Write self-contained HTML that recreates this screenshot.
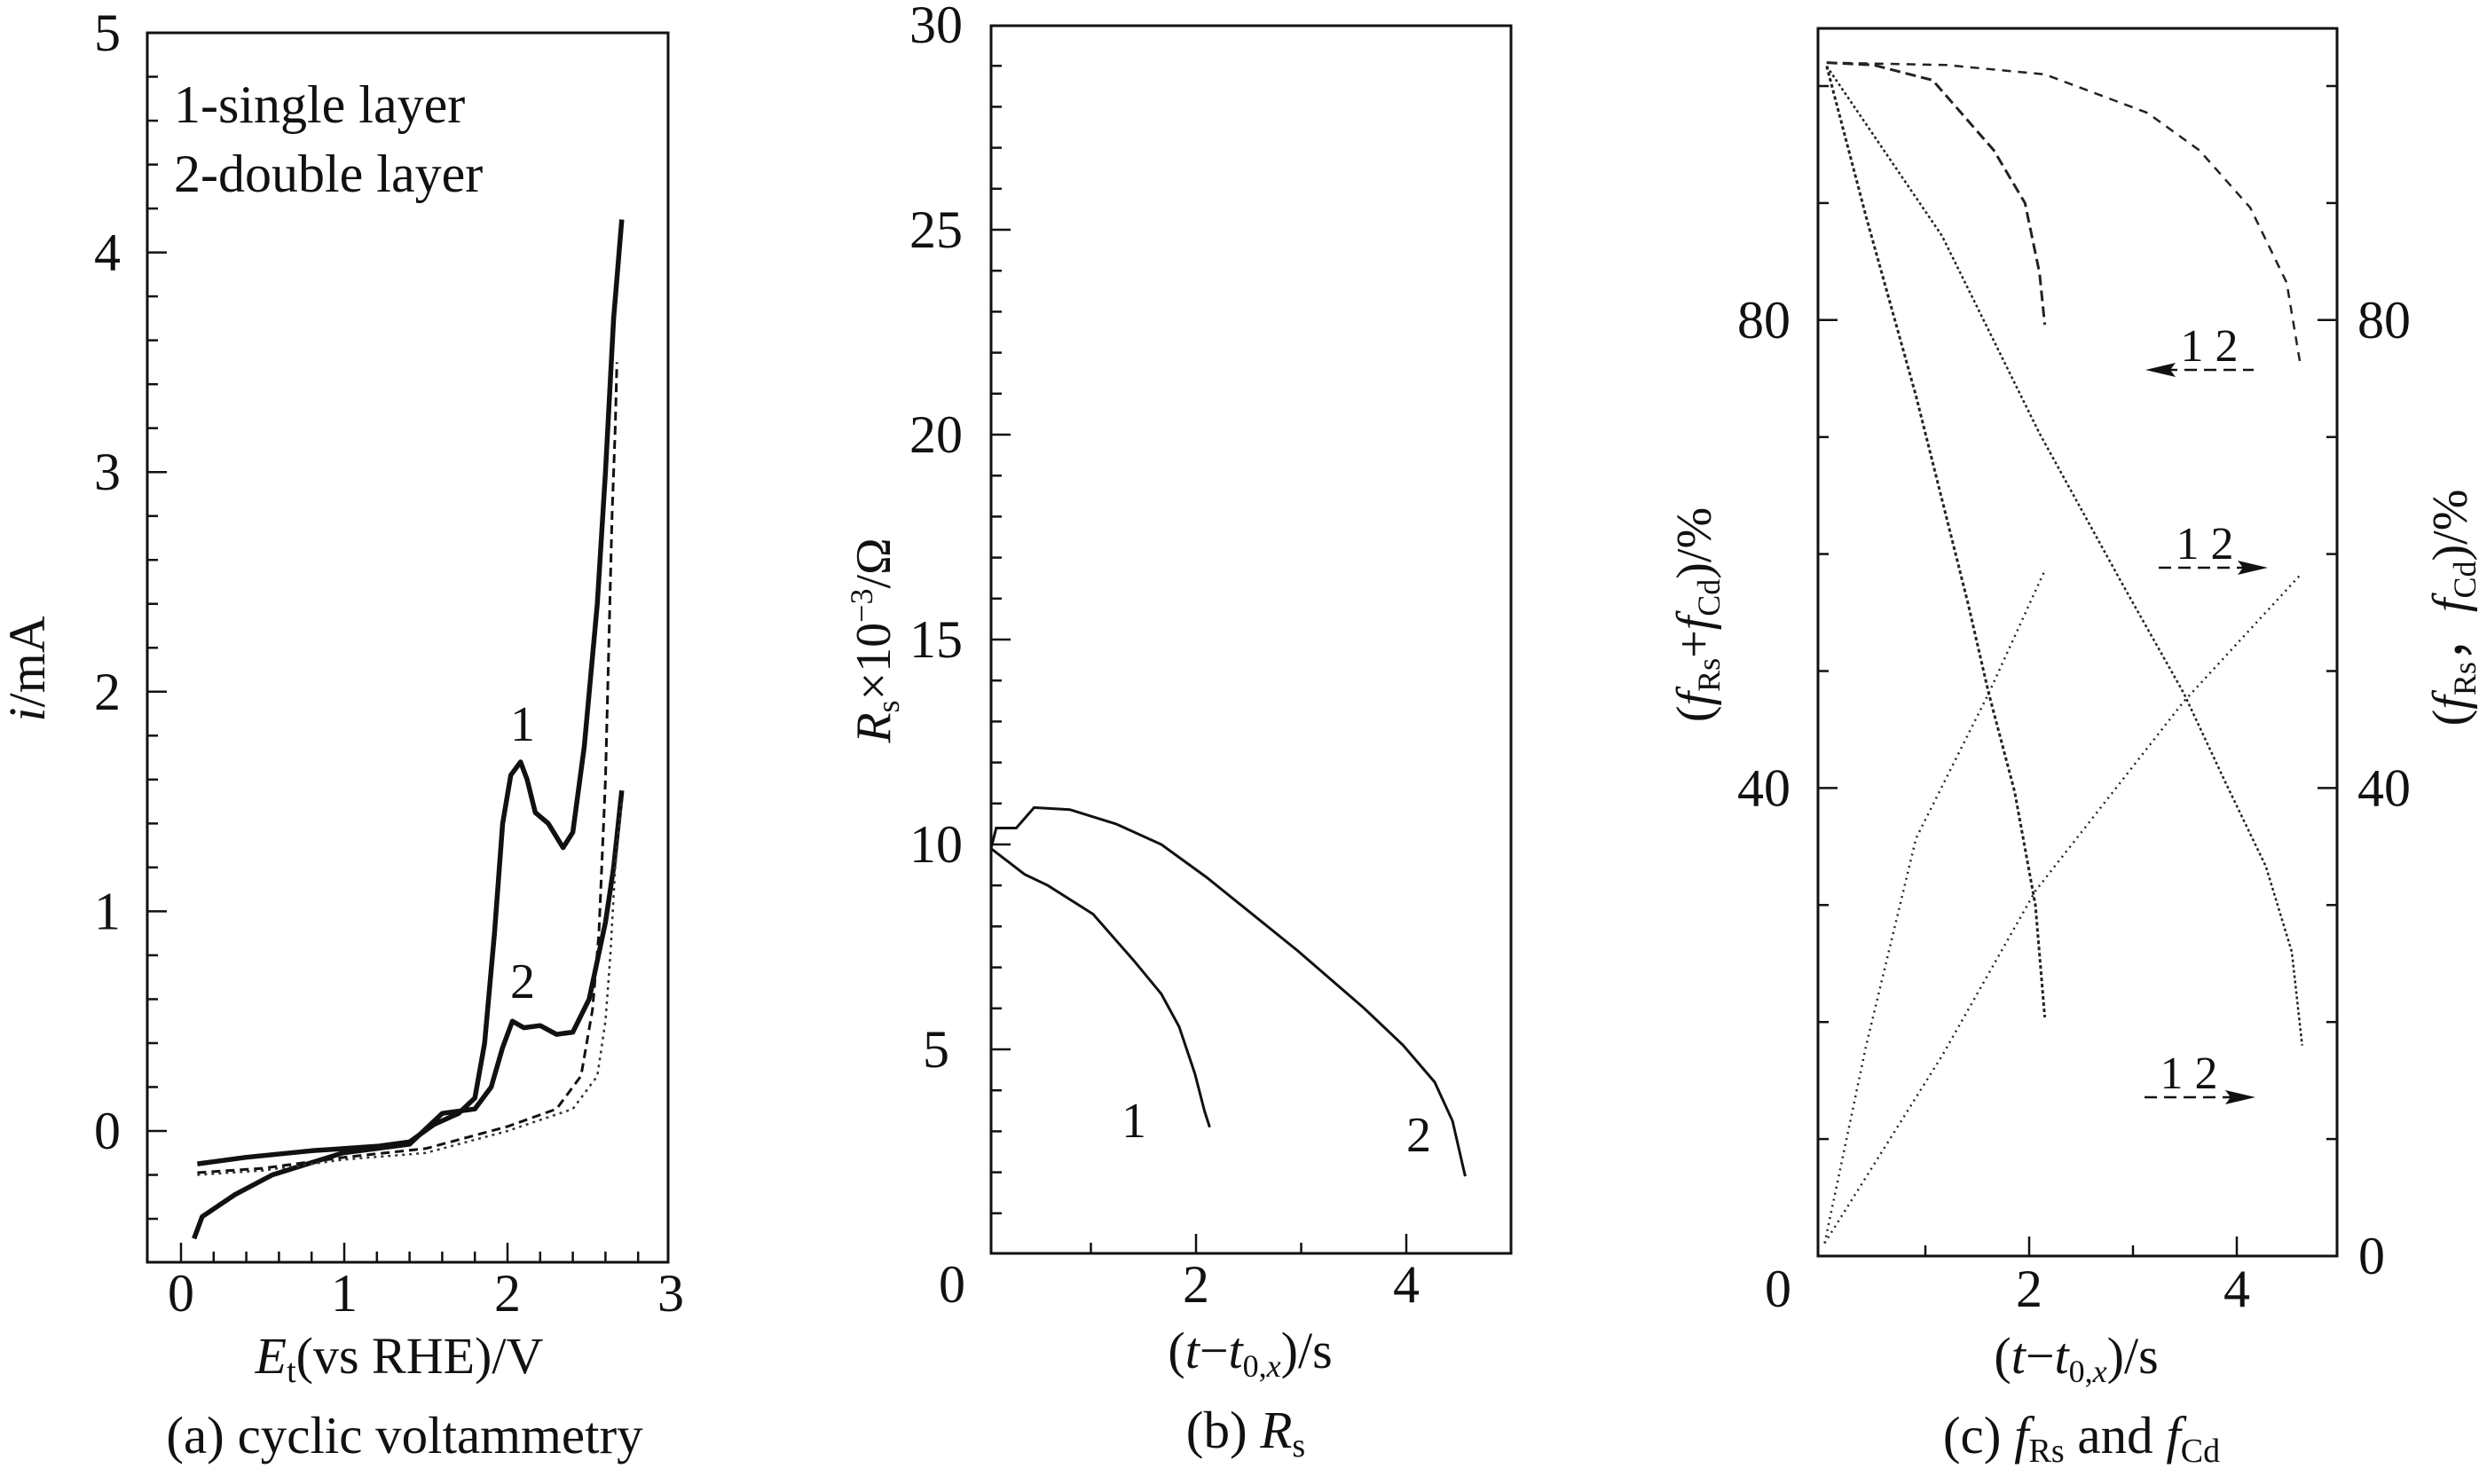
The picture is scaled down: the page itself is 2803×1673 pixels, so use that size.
<!DOCTYPE html>
<html><head><meta charset="utf-8"><style>
html,body{margin:0;padding:0;background:#fff;}
svg{display:block;font-family:"Liberation Serif",serif;}
text{fill:#111;}
</style></head><body>
<svg id="chart" width="2803" height="1673" viewBox="0 0 2803 1673" xmlns="http://www.w3.org/2000/svg">
<g id="pa"></g>
<g id="pb"></g>
<g id="pc"></g>
<text x="196" y="138" font-size="60">1-single layer</text>
<text x="196" y="216" font-size="60">2-double layer</text>
<text x="589" y="835" font-size="56" text-anchor="middle">1</text>
<text x="589" y="1125" font-size="56" text-anchor="middle">2</text>
<text transform="translate(50,754) rotate(-90)" font-size="58" text-anchor="middle"><tspan font-style="italic">i</tspan>/mA</text>
<text x="450" y="1548" font-size="58" text-anchor="middle"><tspan font-style="italic">E</tspan><tspan font-size="38" dy="10">t</tspan><tspan dy="-10">(vs RHE)/V</tspan></text>
<text x="456" y="1638" font-size="59" text-anchor="middle">(a) cyclic voltammetry</text>

<text x="1278" y="1282" font-size="56" text-anchor="middle">1</text>
<text x="1599" y="1298" font-size="56" text-anchor="middle">2</text>
<text transform="translate(1003,722) rotate(-90)" font-size="56" text-anchor="middle"><tspan font-style="italic">R</tspan><tspan font-size="36" dy="10">s</tspan><tspan dy="-10">×10</tspan><tspan font-size="36" dy="-20">−3</tspan><tspan dy="20">/Ω</tspan></text>
<text x="1409" y="1542" font-size="58" text-anchor="middle">(<tspan font-style="italic">t</tspan>−<tspan font-style="italic">t</tspan><tspan font-size="36" dy="10">0,<tspan font-style="italic">x</tspan></tspan><tspan dy="-10">)/s</tspan></text>
<text x="1404" y="1632" font-size="59" text-anchor="middle">(b) <tspan font-style="italic">R</tspan><tspan font-size="38" dy="10">s</tspan></text>

<text transform="translate(1928,693) rotate(-90)" font-size="56" text-anchor="middle">(<tspan font-style="italic">f</tspan><tspan font-size="36" dy="10">Rs</tspan><tspan dy="-10">+</tspan><tspan font-style="italic">f</tspan><tspan font-size="36" dy="10">Cd</tspan><tspan dy="-10">)/%</tspan></text>
<text transform="translate(2780,685) rotate(-90)" font-size="56" text-anchor="middle">(<tspan font-style="italic">f</tspan><tspan font-size="36" dy="10">Rs</tspan><tspan dy="-10">，</tspan><tspan font-style="italic">f</tspan><tspan font-size="36" dy="10">Cd</tspan><tspan dy="-10">)/%</tspan></text>
<text x="2340" y="1548" font-size="58" text-anchor="middle">(<tspan font-style="italic">t</tspan>−<tspan font-style="italic">t</tspan><tspan font-size="36" dy="10">0,<tspan font-style="italic">x</tspan></tspan><tspan dy="-10">)/s</tspan></text>
<text x="2346" y="1638" font-size="59" text-anchor="middle">(c) <tspan font-style="italic">f</tspan><tspan font-size="38" dy="10">Rs</tspan><tspan dy="-10"> and </tspan><tspan font-style="italic">f</tspan><tspan font-size="38" dy="10">Cd</tspan></text>

<g>
<text x="2490" y="407" font-size="52" text-anchor="middle">1 2</text>
<line x1="2440" y1="417" x2="2540" y2="417" stroke="#111" stroke-width="2.5" stroke-dasharray="14,8"/>
<polygon points="2418,417 2452,409 2446,417 2452,425" fill="#111"/>
</g>
<g>
<text x="2485" y="630" font-size="52" text-anchor="middle">1 2</text>
<line x1="2433" y1="640" x2="2530" y2="640" stroke="#111" stroke-width="2.5" stroke-dasharray="14,8"/>
<polygon points="2556,640 2522,632 2528,640 2522,648" fill="#111"/>
</g>
<g>
<text x="2467" y="1227" font-size="52" text-anchor="middle">1 2</text>
<line x1="2417" y1="1237" x2="2516" y2="1237" stroke="#111" stroke-width="2.5" stroke-dasharray="14,8"/>
<polygon points="2542,1237 2508,1229 2514,1237 2508,1245" fill="#111"/>
</g>
</svg>
<script>
// ---- Panel A data ----
const aC1x=[0.10,0.40,0.80,1.20,1.40,1.55,1.70,1.80,1.86,1.92,1.97,2.02,2.08,2.12,2.17,2.25,2.34,2.40,2.47,2.55,2.60,2.65,2.70];
const aC1y=[-0.15,-0.12,-0.09,-0.07,-0.05,0.03,0.08,0.15,0.40,0.90,1.40,1.62,1.68,1.60,1.45,1.40,1.29,1.36,1.75,2.40,3.00,3.70,4.15];
const aC2x=[0.08,0.13,0.33,0.56,0.99,1.40,1.60,1.80,1.90,1.97,2.03,2.10,2.20,2.30,2.40,2.50,2.60,2.65,2.70];
const aC2y=[-0.49,-0.39,-0.29,-0.20,-0.10,-0.06,0.08,0.10,0.20,0.38,0.50,0.47,0.48,0.44,0.45,0.60,0.95,1.20,1.55];
const aD1x=[0.10,0.50,1.00,1.50,2.00,2.30,2.45,2.52,2.56,2.60,2.62,2.64,2.66,2.67];
const aD1y=[-0.19,-0.17,-0.12,-0.08,0.02,0.10,0.25,0.55,0.90,1.60,2.20,2.80,3.20,3.50];
const aD2x=[0.10,0.50,1.00,1.50,2.00,2.40,2.55,2.60,2.63,2.66,2.70];
const aD2y=[-0.20,-0.18,-0.13,-0.10,0.00,0.10,0.25,0.50,0.80,1.20,1.50];
const aXTicks=["0","1","2","3"];
const aYTicks=["0","1","2","3","4","5"];
// ---- Panel B data ----
const bC1x=[0.05,0.37,0.59,1.02,1.41,1.67,1.84,1.99,2.08,2.13];
const bC1y=[9.9,9.27,9.0,8.3,7.16,6.35,5.55,4.4,3.5,3.1];
const bC2x=[0.05,0.10,0.29,0.46,0.80,1.24,1.67,2.10,2.97,3.60,3.97,4.27,4.44,4.56];
const bC2y=[9.9,10.4,10.4,10.9,10.85,10.5,10.0,9.2,7.4,6.0,5.1,4.2,3.25,1.9];
const bXTicks=["0","2","4"];
const bYTicks=["5","10","15","20","25","30"];
// ---- Panel C data ----
const cSum1x=[0.05,0.50,1.07,1.66,1.96,2.10,2.15];
const cSum1y=[102,101.8,100.5,94.5,90,84,79.6];
const cSum2x=[0.05,0.60,1.20,2.15,3.14,3.64,4.13,4.48,4.61];
const cSum2y=[102,101.9,101.8,101,97.7,94.5,89.6,83.2,76.3];
const cRs1x=[0.05,0.43,0.91,1.41,1.61,1.86,2.06,2.15];
const cRs1y=[101.7,88.8,73.5,55.8,48.1,39.7,30,20.4];
const cRs2x=[0.05,1.16,2.10,2.90,3.49,3.89,4.28,4.53,4.63];
const cRs2y=[101.7,87.2,70.3,57.4,48.1,40.5,33.3,26,18];
const cCd1x=[0.03,0.43,0.91,1.61,2.15];
const cCd1y=[1.1,18,35.7,48.1,58.6];
const cCd2x=[0.03,1.16,2.06,3.49,4.61];
const cCd2y=[1.1,17.1,31.2,47.4,58.2];
const cXTicks=["2","4"];
const cYTicks=["0","40","80"];

const NS="http://www.w3.org/2000/svg";
function mk(tag,parent,attrs){const e=document.createElementNS(NS,tag);for(const k in attrs)e.setAttribute(k,attrs[k]);parent.appendChild(e);return e;}
function lin(d0,d1,r0,r1){return v=>r0+(v-d0)*(r1-r0)/(d1-d0);}
function pathD(xs,ys,sx,sy){return xs.map((x,i)=>(i?"L":"M")+sx(x).toFixed(1)+","+sy(ys[i]).toFixed(1)).join("");}

// Panel A
(function(){
const g=document.getElementById('pa');
const L=166,R=753,T=37,B=1423;
const sx=lin(0,1,204,388), sy=lin(0,1,1275,1027.4);
const fr=mk('rect',g,{x:L,y:T,width:R-L,height:B-T,fill:'none',stroke:'#111','stroke-width':3});


for(let v=0;v<=3.001;v+=0.2){const x=sx(v);if(x>R-2)continue;const major=Math.abs(v-Math.round(v))<1e-6;
const t=mk('line',g,{x1:x,x2:x,y1:B,y2:B-(major?22:12),stroke:'#111','stroke-width':2.5});

}
for(let v=-0.6;v<=5.001;v+=0.2){const y=sy(v);if(y>B-2||y<T+2)continue;const major=Math.abs(v-Math.round(v))<1e-6;
const t=mk('line',g,{x1:L,x2:L+(major?22:12),y1:y,y2:y,stroke:'#111','stroke-width':2.5});

}
aXTicks.forEach(s=>{const t=mk('text',g,{x:sx(+s),y:1478,'font-size':60,'text-anchor':'middle'});t.textContent=s;

});
aYTicks.forEach(s=>{const t=mk('text',g,{x:121,y:sy(+s)+20,'font-size':60,'text-anchor':'middle'});t.textContent=s;

});
const s1=mk('path',g,{d:pathD(aC1x,aC1y,sx,sy),fill:'none',stroke:'#111','stroke-width':5.5,'stroke-linejoin':'round'});


const s2=mk('path',g,{d:pathD(aC2x,aC2y,sx,sy),fill:'none',stroke:'#111','stroke-width':5.5,'stroke-linejoin':'round'});


const d1=mk('path',g,{d:pathD(aD1x,aD1y,sx,sy),fill:'none',stroke:'#111','stroke-width':3,'stroke-dasharray':'10,6'});


const d2=mk('path',g,{d:pathD(aD2x,aD2y,sx,sy),fill:'none',stroke:'#333','stroke-width':2.5,'stroke-dasharray':'3,5'});


})();

// Panel B
(function(){
const g=document.getElementById('pb');
const L=1117,R=1703,T=29,B=1413;
const sx=lin(0,1,1111,1229.5), sy=lin(0,1,1414,1367.8);
const fr=mk('rect',g,{x:L,y:T,width:R-L,height:B-T,fill:'none',stroke:'#111','stroke-width':3});


for(let v=1;v<=4;v++){const x=sx(v);
const t=mk('line',g,{x1:x,x2:x,y1:B,y2:B-(v%2?12:22),stroke:'#111','stroke-width':2.5});

}
for(let v=1;v<30;v++){const y=sy(v);
const t=mk('line',g,{x1:L,x2:L+(v%5?12:22),y1:y,y2:y,stroke:'#111','stroke-width':2.5});

}
bXTicks.forEach(s=>{const x=s==="0"?1073:sx(+s);const t=mk('text',g,{x:x,y:1468,'font-size':60,'text-anchor':'middle'});t.textContent=s;

});
bYTicks.forEach(s=>{const t=mk('text',g,{x:1055,y:sy(+s)+20,'font-size':60,'text-anchor':'middle'});t.textContent=s;

});
const s1=mk('path',g,{d:pathD(bC1x,bC1y,sx,sy),fill:'none',stroke:'#111','stroke-width':3});


const s2=mk('path',g,{d:pathD(bC2x,bC2y,sx,sy),fill:'none',stroke:'#111','stroke-width':3});


})();

// Panel C
(function(){
const g=document.getElementById('pc');
const L=2049,R=2634,T=32,B=1416;
const sx=lin(0,1,2053,2170), sy=lin(0,1,1416,1402.81);
const fr=mk('rect',g,{x:L,y:T,width:R-L,height:B-T,fill:'none',stroke:'#111','stroke-width':3});


for(let v=1;v<=4;v++){const x=sx(v);
const t=mk('line',g,{x1:x,x2:x,y1:B,y2:B-(v%2?12:22),stroke:'#111','stroke-width':2.5});

}
for(let v=10;v<=100;v+=10){const y=sy(v);const len=(v%40===0)?22:12;
const t1=mk('line',g,{x1:L,x2:L+len,y1:y,y2:y,stroke:'#111','stroke-width':2.5});


const t2=mk('line',g,{x1:R,x2:R-len,y1:y,y2:y,stroke:'#111','stroke-width':2.5});

}
cXTicks.forEach(s=>{const t=mk('text',g,{x:sx(+s),y:1473,'font-size':60,'text-anchor':'middle'});t.textContent=s;

});
cYTicks.forEach(s=>{const y=s==="0"?1473:sy(+s)+20;const t=mk('text',g,{x:s==="0"?2004:1988,y:y,'font-size':60,'text-anchor':'middle'});t.textContent=s;


const t2=mk('text',g,{x:s==="0"?2673:2687,y:sy(+s)+20,'font-size':60,'text-anchor':'middle'});t2.textContent=s;

});
const defs=[[cSum1x,cSum1y,'series-sum-1','12,6',3],[cSum2x,cSum2y,'series-sum-2','10,8',2.5],
[cRs1x,cRs1y,'series-frs-1','4,3',3],[cRs2x,cRs2y,'series-frs-2','3,3',2.5],
[cCd1x,cCd1y,'series-fcd-1','2,5',2.5],[cCd2x,cCd2y,'series-fcd-2','2,5',2.5]];
defs.forEach(d=>{const p=mk('path',g,{d:pathD(d[0],d[1],sx,sy),fill:'none',stroke:'#222','stroke-width':d[4],'stroke-dasharray':d[3]});

});
})();
</script>
</body></html>
